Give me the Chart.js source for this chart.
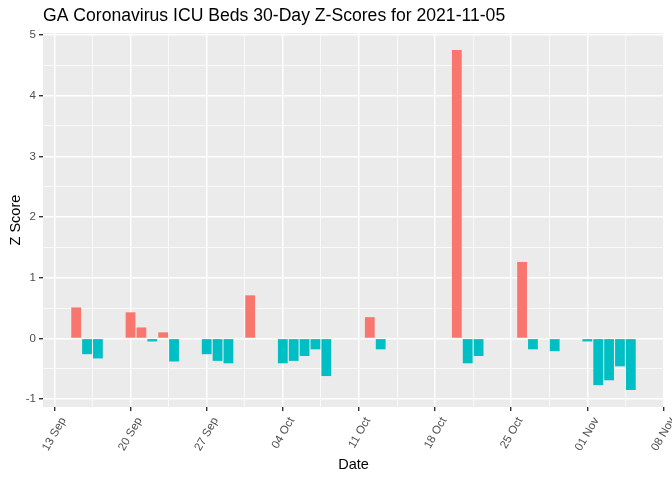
<!DOCTYPE html>
<html lang="en">
<head>
  <meta charset="UTF-8" />
  <title>GA Coronavirus ICU Beds Z-Scores</title>
  <script src="https://cdn.jsdelivr.net/npm/chart.js"></script>
  <style>
    html, body { margin: 0; padding: 0; background: #ffffff; }
    #wrap { width: 672px; height: 480px; }
  </style>
</head>
<body>
  <div id="wrap"><canvas id="zChart" width="672" height="480"></canvas></div>

  <script>
    // data
    const dates = [
      '2021-09-15', '2021-09-16', '2021-09-17', '2021-09-20', '2021-09-21',
      '2021-09-22', '2021-09-23', '2021-09-24', '2021-09-27', '2021-09-28',
      '2021-09-29', '2021-10-01', '2021-10-04', '2021-10-05', '2021-10-06',
      '2021-10-07', '2021-10-08', '2021-10-12', '2021-10-13', '2021-10-20',
      '2021-10-21', '2021-10-22', '2021-10-26', '2021-10-27', '2021-10-29',
      '2021-11-01', '2021-11-02', '2021-11-03', '2021-11-04', '2021-11-05'
    ];
    const zScores = [
      0.51, -0.26, -0.33, 0.43, 0.18,
      -0.05, 0.10, -0.38, -0.26, -0.37,
      -0.41, 0.71, -0.41, -0.37, -0.29,
      -0.18, -0.62, 0.35, -0.18, 4.75,
      -0.41, -0.29, 1.26, -0.18, -0.21,
      -0.05, -0.77, -0.69, -0.46, -0.85
    ];
    const xTickDates = ['2021-09-13', '2021-09-20', '2021-09-27', '2021-10-04',
      '2021-10-11', '2021-10-18', '2021-10-25', '2021-11-01', '2021-11-08'];
    const yTicks = [-1, 0, 1, 2, 3, 4, 5];
    const months = ['Jan', 'Feb', 'Mar', 'Apr', 'May', 'Jun', 'Jul', 'Aug', 'Sep', 'Oct', 'Nov', 'Dec'];

    const DAY = 86400000;
    const base = Date.parse(xTickDates[0]);
    const toDay = d => (Date.parse(d) - base) / DAY;

    const points = dates.map((d, i) => ({ x: toDay(d), y: zScores[i] }));
    const majorX = xTickDates.map(toDay);

    function fmtDay(v) {
      const dt = new Date(base + v * DAY);
      const dd = String(dt.getUTCDate()).padStart(2, '0');
      return dd + ' ' + months[dt.getUTCMonth()];
    }

    // grid: major at the labelled ticks, minor halfway between
    const xGridVals = [];
    for (let i = 0; i < majorX.length; i++) {
      if (i > 0) xGridVals.push((majorX[i - 1] + majorX[i]) / 2);
      xGridVals.push(majorX[i]);
    }
    const yGridVals = [];
    for (let i = 0; i < yTicks.length; i++) {
      yGridVals.push(yTicks[i]);
      if (i < yTicks.length - 1) yGridVals.push(yTicks[i] + 0.5);
    }

    const isMajorX = v => majorX.includes(v);
    const isMajorY = v => yTicks.includes(v);

    const panelBg = {
      id: 'panelBg',
      beforeDraw(chart) {
        const { ctx, chartArea: a } = chart;
        ctx.save();
        ctx.fillStyle = '#EBEBEB';
        ctx.fillRect(a.left, a.top, a.right - a.left, a.bottom - a.top);
        ctx.restore();
      }
    };

    const tickFont = { family: 'Liberation Sans, Arial, sans-serif', size: 11.5 };
    const titleFont = { family: 'Liberation Sans, Arial, sans-serif', size: 14.5 };

    new Chart(document.getElementById('zChart'), {
      type: 'bar',
      data: {
        datasets: [{
          data: points,
          backgroundColor: ctx => (ctx.raw && ctx.raw.y > 0 ? '#F8766D' : '#00BFC4'),
          borderWidth: 0,
          barPercentage: 0.9,
          categoryPercentage: 1.0
        }]
      },
      options: {
        responsive: false,
        animation: false,
        devicePixelRatio: 1,
        layout: { padding: { top: 0, right: 8, bottom: 0, left: 0 } },
        plugins: {
          legend: { display: false },
          tooltip: { enabled: false },
          title: {
            display: true,
            text: 'GA Coronavirus ICU Beds 30-Day Z-Scores for 2021-11-05',
            align: 'start',
            fullSize: false,
            color: '#000000',
            font: { family: 'Liberation Sans, Arial, sans-serif', size: 17.6, weight: 'normal' },
            padding: { top: 6, bottom: 6 }
          }
        },
        scales: {
          x: {
            type: 'linear',
            min: -1.05,
            max: 56.05,
            offset: false,
            afterBuildTicks: s => { s.ticks = xGridVals.map(v => ({ value: v })); },
            afterFit: s => { s.height = 73; s.paddingLeft = 0; s.paddingRight = 0; },
            ticks: {
              autoSkip: false,
              minRotation: 60,
              maxRotation: 60,
              color: '#4D4D4D',
              font: tickFont,
              padding: 4,
              labelOffset: 9,
              callback: v => (isMajorX(v) ? fmtDay(v) : '')
            },
            grid: {
              offset: false,
              color: '#FFFFFF',
              lineWidth: c => (c.tick && isMajorX(c.tick.value) ? 1.4 : 0.7),
              tickColor: c => (c.tick && isMajorX(c.tick.value) ? '#333333' : 'rgba(0,0,0,0)'),
              tickLength: 4,
              drawTicks: true
            },
            border: { display: false },
            title: {
              display: true,
              text: 'Date',
              color: '#000000',
              font: titleFont,
              padding: { top: 0, bottom: 6 }
            }
          },
          y: {
            min: -1.13,
            max: 5.03,
            afterBuildTicks: s => { s.ticks = yGridVals.map(v => ({ value: v })); },
            afterFit: s => { s.width = 43; s.paddingTop = 0; s.paddingBottom = 0; },
            ticks: {
              autoSkip: false,
              color: '#4D4D4D',
              font: tickFont,
              padding: 3,
              callback: v => (isMajorY(v) ? String(v) : '')
            },
            grid: {
              color: '#FFFFFF',
              lineWidth: c => (c.tick && isMajorY(c.tick.value) ? 1.4 : 0.7),
              tickColor: c => (c.tick && isMajorY(c.tick.value) ? '#333333' : 'rgba(0,0,0,0)'),
              tickLength: 4,
              drawTicks: true
            },
            border: { display: false },
            title: {
              display: true,
              text: 'Z Score',
              color: '#000000',
              font: titleFont,
              padding: { top: 7, bottom: 0 }
            }
          }
        }
      },
      plugins: [panelBg]
    });
  </script>
</body>
</html>
